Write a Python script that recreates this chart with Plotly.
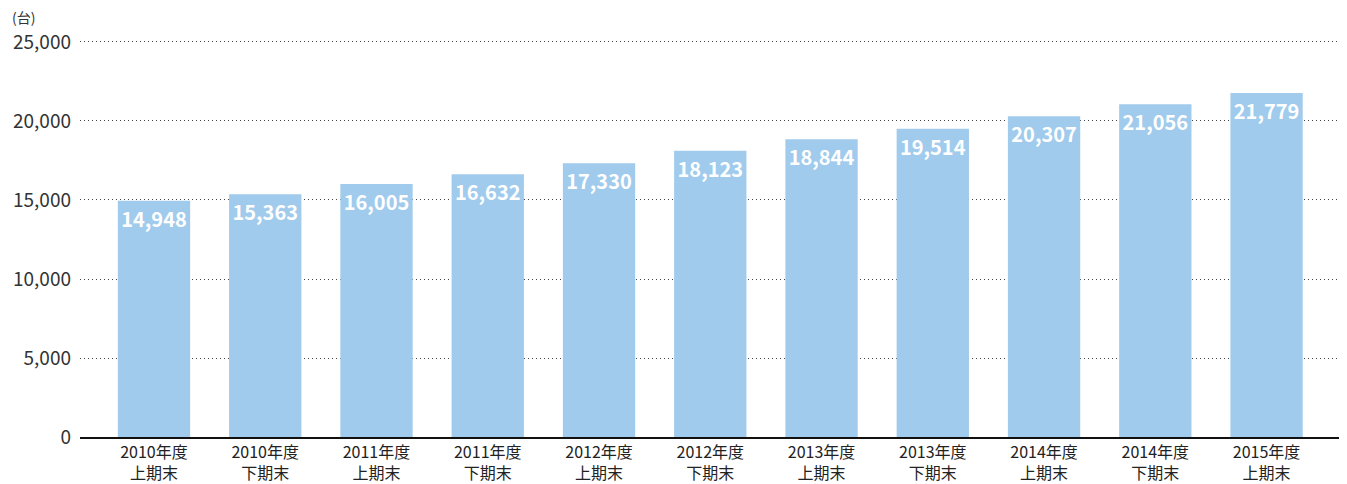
import plotly.graph_objects as go

categories = ["2010年度<br>上期末", "2010年度<br>下期末", "2011年度<br>上期末", "2011年度<br>下期末",
              "2012年度<br>上期末", "2012年度<br>下期末", "2013年度<br>上期末", "2013年度<br>下期末",
              "2014年度<br>上期末", "2014年度<br>下期末", "2015年度<br>上期末"]
values = [14948, 15363, 16005, 16632, 17330, 18123, 18844, 19514, 20307, 21056, 21779]
y_ticks = [0, 5000, 10000, 15000, 20000, 25000]
y_tick_labels = ["0", "5,000", "10,000", "15,000", "20,000", "25,000"]

FONT = "Noto Sans CJK JP"

fig = go.Figure()
fig.add_trace(go.Bar(
    x=list(range(len(categories))), y=values,
    marker=dict(color="#A0CBEC", line=dict(width=0)),
    width=0.65,
    text=[f"{v:,}" for v in values],
    textposition="inside", insidetextanchor="end",
    textfont=dict(family=FONT, size=20, color="white", weight="bold"),
    textangle=0,
    cliponaxis=False,
    hoverinfo="skip",
))

fig.update_layout(
    width=1347, height=484,
    margin=dict(l=72, r=15, t=32, b=55, autoexpand=False),
    plot_bgcolor="white", paper_bgcolor="white",
    showlegend=False,
    font=dict(family=FONT, color="#333333"),
    uniformtext=dict(minsize=8, mode=False),
)
fig.update_xaxes(
    range=[-0.665, 10.66],
    tickmode="array", tickvals=list(range(len(categories))), ticktext=categories,
    tickfont=dict(family=FONT, size=16, color="#222222"),
    showgrid=False, zeroline=False,
    showline=True, linecolor="#111111", linewidth=2,
    ticks="", ticklen=0, automargin=False, ticklabelstandoff=0,
)
fig.update_yaxes(
    range=[0, 25126],
    tickmode="array", tickvals=y_ticks, ticktext=y_tick_labels,
    tickfont=dict(family=FONT, size=19, color="#333333"),
    showgrid=True, gridcolor="#444444", griddash="1px,3px", gridwidth=1,
    zeroline=False, showline=False, ticks="", ticklabelstandoff=8,
    automargin=False,
)
fig.add_annotation(
    text="(台)", xref="paper", yref="paper", x=-70/1260, y=1, yshift=23,
    xanchor="left", yanchor="middle", showarrow=False,
    font=dict(family=FONT, size=14, color="#333333"),
)

fig.write_html("out.html")
